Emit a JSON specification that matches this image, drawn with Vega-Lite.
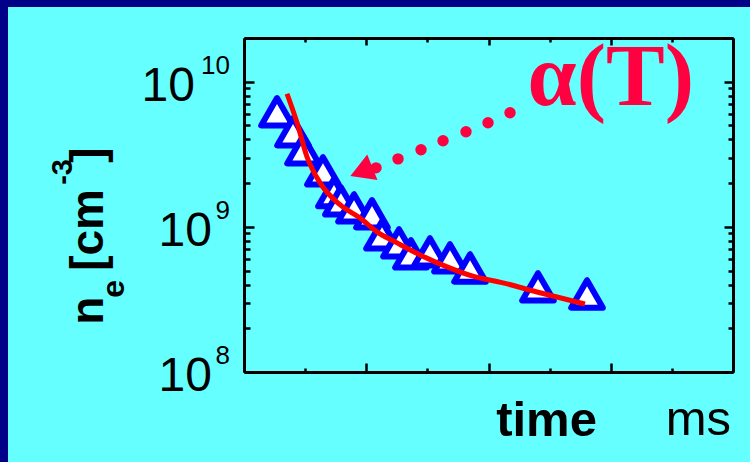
{
  "$schema": "https://vega.github.io/schema/vega-lite/v6.json",
  "width": 742,
  "height": 455,
  "autosize": {"type": "none"},
  "padding": {"left": 8, "top": 7, "right": 0, "bottom": 0},
  "background": "#000088",
  "config": {
    "view": {"stroke": null, "fill": "#66ffff"},
    "axis": {"grid": false, "domainColor": "black", "domainWidth": 3, "tickColor": "black", "tickWidth": 2.5, "labelColor": "black", "titleColor": "black"},
    "text": {"color": "black", "font": "Liberation Sans"}
  },
  "datasets": {
    "obs": [
      {"t": 0.270, "ne": 6.21e9},
      {"t": 0.401, "ne": 4.52e9},
      {"t": 0.483, "ne": 3.40e9},
      {"t": 0.646, "ne": 2.43e9},
      {"t": 0.736, "ne": 1.72e9},
      {"t": 0.793, "ne": 1.51e9},
      {"t": 0.900, "ne": 1.35e9},
      {"t": 1.047, "ne": 1.23e9},
      {"t": 1.129, "ne": 8.81e8},
      {"t": 1.268, "ne": 7.76e8},
      {"t": 1.366, "ne": 6.51e8},
      {"t": 1.521, "ne": 6.72e8},
      {"t": 1.685, "ne": 6.11e8},
      {"t": 1.849, "ne": 5.21e8},
      {"t": 2.405, "ne": 3.86e8},
      {"t": 2.806, "ne": 3.45e8}
    ],
    "fit": [
      {"t": 0.352, "ne": 8.26e9},
      {"t": 0.434, "ne": 5.21e9},
      {"t": 0.515, "ne": 3.04e9},
      {"t": 0.622, "ne": 2.01e9},
      {"t": 0.785, "ne": 1.42e9},
      {"t": 0.949, "ne": 1.15e9},
      {"t": 1.088, "ne": 9.24e8},
      {"t": 1.252, "ne": 7.76e8},
      {"t": 1.440, "ne": 6.41e8},
      {"t": 1.661, "ne": 5.30e8},
      {"t": 1.865, "ne": 4.59e8},
      {"t": 2.119, "ne": 4.11e8},
      {"t": 2.397, "ne": 3.56e8},
      {"t": 2.789, "ne": 2.94e8}
    ],
    "dots": [
      {"t": 2.176, "ne": 6.11e9},
      {"t": 1.996, "ne": 5.22e9},
      {"t": 1.816, "ne": 4.52e9},
      {"t": 1.628, "ne": 3.92e9},
      {"t": 1.448, "ne": 3.40e9},
      {"t": 1.260, "ne": 2.94e9},
      {"t": 1.080, "ne": 2.55e9}
    ],
    "head": [
      {"t": 0.960, "ne": 2.40e9}
    ],
    "label": [
      {"t": 3.0, "ne": 6.94e9, "txt": "α(T)"}
    ],
    "xunit": [
      {"t": 4, "ne": 1e8, "txt": "ms"}
    ],
    "ylab": [
      {"ne": 1e10, "base": "10", "exp": "10"},
      {"ne": 1e9, "base": "10", "exp": "9"},
      {"ne": 1e8, "base": "10", "exp": "8"}
    ],
    "ytitle": [
      {"k": "n", "txt": "n"},
      {"k": "e", "txt": "e"},
      {"k": "cm", "txt": "[cm"},
      {"k": "sup", "txt": "-3"},
      {"k": "br", "txt": "]"}
    ]
  },
  "resolve": {"scale": {"x": "shared", "y": "shared"}, "axis": {"x": "independent", "y": "independent"}},
  "layer": [
    {
      "data": {"name": "obs"},
      "mark": {"type": "point", "shape": "triangle-up", "filled": false, "fill": "white", "fillOpacity": 1, "stroke": "#0000ff", "strokeWidth": 6, "strokeJoin": "round", "size": 1000, "opacity": 1},
      "encoding": {
        "x": {"field": "t", "type": "quantitative",
          "scale": {"domain": [0, 4], "range": [236, 725], "nice": false, "zero": false},
          "axis": {"orient": "bottom", "offset": -90, "values": [0, 0.5, 1, 1.5, 2, 2.5, 3, 3.5, 4], "labels": false,
            "tickSize": {"condition": {"test": "datum.value % 1 == 0", "value": -9}, "value": -4},
            "title": "time", "titleFont": "Liberation Sans", "titleFontSize": 49, "titleFontWeight": "bold",
            "titleX": 538, "titleY": 63, "titleAlign": "center", "titleBaseline": "alphabetic", "titleAngle": 0}},
        "y": {"field": "ne", "type": "quantitative",
          "scale": {"type": "log", "domain": [1e8, 2e10], "range": [365, 31], "nice": false},
          "axis": {"orient": "left", "offset": -236, "labels": false, "title": null,
            "values": [1e8, 2e8, 3e8, 4e8, 5e8, 6e8, 7e8, 8e8, 9e8, 1e9, 2e9, 3e9, 4e9, 5e9, 6e9, 7e9, 8e9, 9e9, 1e10, 2e10],
            "tickSize": {"condition": {"test": "datum.value == 1e8 || datum.value == 1e9 || datum.value == 1e10", "value": -10}, "value": -6}}}
      }
    },
    {
      "data": {"name": "fit"},
      "mark": {"type": "line", "color": "#ff0000", "strokeWidth": 5, "interpolate": "monotone"},
      "encoding": {
        "x": {"field": "t", "type": "quantitative",
          "scale": {"domain": [0, 4], "range": [236, 725], "nice": false, "zero": false},
          "axis": {"orient": "top", "offset": -31, "values": [0, 0.5, 1, 1.5, 2, 2.5, 3, 3.5, 4], "labels": false, "title": null,
            "tickSize": {"condition": {"test": "datum.value % 1 == 0", "value": -7}, "value": -4}}},
        "y": {"field": "ne", "type": "quantitative",
          "scale": {"type": "log", "domain": [1e8, 2e10], "range": [365, 31], "nice": false},
          "axis": {"orient": "right", "offset": -17, "labels": false, "title": null,
            "values": [1e8, 2e8, 3e8, 4e8, 5e8, 6e8, 7e8, 8e8, 9e8, 1e9, 2e9, 3e9, 4e9, 5e9, 6e9, 7e9, 8e9, 9e9, 1e10, 2e10],
            "tickSize": {"condition": {"test": "datum.value == 1e8 || datum.value == 1e9 || datum.value == 1e10", "value": -9}, "value": -5}}}
      }
    },
    {
      "data": {"name": "dots"},
      "mark": {"type": "circle", "color": "#ff0040", "size": 130, "opacity": 1},
      "encoding": {
        "x": {"field": "t", "type": "quantitative", "axis": null},
        "y": {"field": "ne", "type": "quantitative", "axis": null}
      }
    },
    {
      "data": {"name": "head"},
      "mark": {"type": "point", "shape": "triangle-up", "filled": true, "color": "#ff0040", "size": 750, "angle": 248, "opacity": 1},
      "encoding": {
        "x": {"field": "t", "type": "quantitative", "axis": null},
        "y": {"field": "ne", "type": "quantitative", "axis": null}
      }
    },
    {
      "data": {"name": "label"},
      "mark": {"type": "text", "font": "Liberation Serif", "fontWeight": "bold", "fontSize": 88, "color": "#ff0040", "align": "center", "baseline": "alphabetic"},
      "encoding": {
        "x": {"field": "t", "type": "quantitative", "axis": null},
        "y": {"field": "ne", "type": "quantitative", "axis": null},
        "text": {"field": "txt"}
      }
    },
    {
      "data": {"name": "xunit"},
      "mark": {"type": "text", "fontSize": 49, "align": "right", "baseline": "alphabetic", "dx": -2, "dy": 63},
      "encoding": {
        "x": {"field": "t", "type": "quantitative", "axis": null},
        "y": {"field": "ne", "type": "quantitative", "axis": null},
        "text": {"field": "txt"}
      }
    },
    {
      "data": {"name": "ylab"},
      "transform": [{"filter": "datum.exp == '10'"}],
      "mark": {"type": "text", "fontSize": 48, "align": "right", "baseline": "alphabetic", "dx": -49, "dy": 19},
      "encoding": {
        "x": {"datum": 0, "type": "quantitative", "axis": null},
        "y": {"field": "ne", "type": "quantitative", "axis": null},
        "text": {"field": "base"}
      }
    },
    {
      "data": {"name": "ylab"},
      "transform": [{"filter": "datum.exp != '10'"}],
      "mark": {"type": "text", "fontSize": 48, "align": "right", "baseline": "alphabetic", "dx": -32, "dy": 19},
      "encoding": {
        "x": {"datum": 0, "type": "quantitative", "axis": null},
        "y": {"field": "ne", "type": "quantitative", "axis": null},
        "text": {"field": "base"}
      }
    },
    {
      "data": {"name": "ylab"},
      "mark": {"type": "text", "fontSize": 26, "align": "right", "baseline": "alphabetic", "dx": -14, "dy": -8},
      "encoding": {
        "x": {"datum": 0, "type": "quantitative", "axis": null},
        "y": {"field": "ne", "type": "quantitative", "axis": null},
        "text": {"field": "exp"}
      }
    },
    {
      "data": {"name": "ytitle"},
      "transform": [{"filter": "datum.k == 'n'"}],
      "mark": {"type": "text", "fontSize": 46, "fontWeight": "bold", "angle": 270, "align": "left", "baseline": "alphabetic", "dx": -98, "dy": -141},
      "encoding": {
        "x": {"datum": 0, "type": "quantitative", "axis": null},
        "y": {"datum": 1e9, "type": "quantitative", "axis": null},
        "text": {"field": "txt"}
      }
    },
    {
      "data": {"name": "ytitle"},
      "transform": [{"filter": "datum.k == 'e'"}],
      "mark": {"type": "text", "fontSize": 32, "fontWeight": "bold", "angle": 270, "align": "left", "baseline": "alphabetic", "dx": -71, "dy": -120},
      "encoding": {
        "x": {"datum": 0, "type": "quantitative", "axis": null},
        "y": {"datum": 1e9, "type": "quantitative", "axis": null},
        "text": {"field": "txt"}
      }
    },
    {
      "data": {"name": "ytitle"},
      "transform": [{"filter": "datum.k == 'cm'"}],
      "mark": {"type": "text", "fontSize": 46, "fontWeight": "bold", "angle": 270, "align": "left", "baseline": "alphabetic", "dx": -44, "dy": -141},
      "encoding": {
        "x": {"datum": 0, "type": "quantitative", "axis": null},
        "y": {"datum": 1e9, "type": "quantitative", "axis": null},
        "text": {"field": "txt"}
      }
    },
    {
      "data": {"name": "ytitle"},
      "transform": [{"filter": "datum.k == 'sup'"}],
      "mark": {"type": "text", "fontSize": 29, "fontWeight": "bold", "angle": 270, "align": "left", "baseline": "alphabetic", "dx": 42, "dy": -172},
      "encoding": {
        "x": {"datum": 0, "type": "quantitative", "axis": null},
        "y": {"datum": 1e9, "type": "quantitative", "axis": null},
        "text": {"field": "txt"}
      }
    },
    {
      "data": {"name": "ytitle"},
      "transform": [{"filter": "datum.k == 'br'"}],
      "mark": {"type": "text", "fontSize": 46, "fontWeight": "bold", "angle": 270, "align": "left", "baseline": "alphabetic", "dx": 64, "dy": -141},
      "encoding": {
        "x": {"datum": 0, "type": "quantitative", "axis": null},
        "y": {"datum": 1e9, "type": "quantitative", "axis": null},
        "text": {"field": "txt"}
      }
    }
  ]
}
